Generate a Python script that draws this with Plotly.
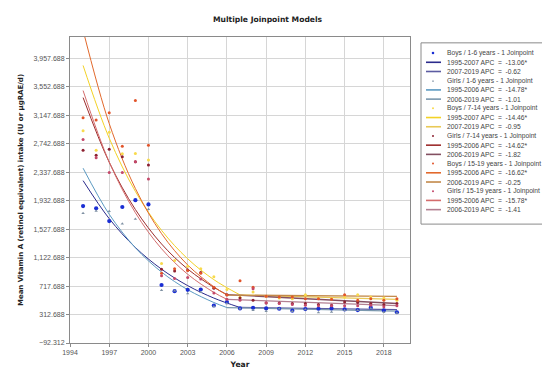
import plotly.graph_objects as go

# ---------------- data ----------------
years = list(range(1995, 2020))

boys_1_6 = [1856, 1824, 1643, 1843, 1940, 1880, 733, 645, 664, 669, 441, 490, 399,
            409, 399, 395, 367, 390, 395, 399, 385, 376, 410, 372, 345]
girls_1_6 = [1755, 1787, 1783, 1606, 1671, 1810, 660, 650, 613, 631, 427, 470, 395,
             375, 360, 395, 360, 385, 340, 350, 375, 375, 400, 345, 335]
boys_7_14 = [2928, 2650, 2905, 2600, 2604, 2511, 1039, 1080, 1000, 966, 850, 669, 560,
             632, 572, 548, 539, 594, 548, 539, 560, 594, 562, 548, 516]
girls_7_14 = [2650, 2580, 2664, 2557, 2487, 2441, 956, 934, 948, 910, 688, 594, 548,
              516, 478, 478, 469, 469, 455, 446, 492, 483, 469, 455, 469]
boys_15_19 = [3114, 3082, 3183, 2706, 3360, 2720, 900, 966, 940, 900, 700, 590, 795,
              700, 572, 562, 562, 539, 539, 530, 594, 516, 539, 516, 539]
girls_15_19 = [2803, 2543, 2334, 2334, 2487, 2242, 864, 826, 840, 817, 618, 530, 516,
               678, 479, 470, 455, 446, 437, 437, 437, 437, 446, 423, 437]

# fitted joinpoint model values
fit_years_b16 = [1995, 1997, 1999, 2001, 2003, 2005, 2007]
fit_b16_seg1 = [2218, 1677, 1267, 958, 724, 547, 413]
fit_years_b16_seg2 = [2007, 2019]
fit_b16_seg2 = [413, 383]

fit_years_g16 = [1995, 1997, 1999, 2001, 2003, 2005, 2006]
fit_g16_seg1 = [2395, 1739, 1263, 917, 666, 484, 412]
fit_years_g16_seg2 = [2006, 2019]
fit_g16_seg2 = [412, 362]

fit_years_b714 = [1995, 1997, 1999, 2001, 2003, 2005, 2007]
fit_b714_seg1 = [3857, 2822, 2065, 1511, 1106, 809, 592]
fit_years_b714_seg2 = [2007, 2019]
fit_b714_seg2 = [592, 528]

fit_years_g714 = [1995, 1997, 1999, 2001, 2003, 2005, 2006]
fit_g714_seg1 = [3400, 2479, 1807, 1317, 960, 700, 597]
fit_years_g714_seg2 = [2006, 2019]
fit_g714_seg2 = [597, 470]

fit_years_b1519 = [1995, 1997, 1999, 2001, 2003, 2005, 2006]
fit_b1519_seg1 = [4358, 3030, 2106, 1464, 1018, 708, 590]
fit_years_b1519_seg2 = [2006, 2019]
fit_b1519_seg2 = [590, 571]

fit_years_g1519 = [1995, 1997, 1999, 2001, 2003, 2005, 2006]
fit_g1519_seg1 = [3500, 2483, 1761, 1249, 886, 628, 529]
fit_years_g1519_seg2 = [2006, 2019]
fit_g1519_seg2 = [529, 440]

y_tick_vals = [-92.312, 312.688, 717.688, 1122.688, 1527.688, 1932.688,
               2337.688, 2742.688, 3147.688, 3552.688, 3957.688]
x_tick_vals = [1994, 1997, 2000, 2003, 2006, 2009, 2012, 2015, 2018]

legend_labels = [
    "Boys / 1-6 years - 1 Joinpoint", "1995-2007 APC  =  -13.06*", "2007-2019 APC  =  -0.62",
    "Girls / 1-6 years - 1 Joinpoint", "1995-2006 APC  =  -14.78*", "2006-2019 APC  =  -1.01",
    "Boys / 7-14 years - 1 Joinpoint", "1995-2007 APC  =  -14.46*", "2007-2019 APC  =  -0.95",
    "Girls / 7-14 years - 1 Joinpoint", "1995-2006 APC  =  -14.62*", "2006-2019 APC  =  -1.82",
    "Boys / 15-19 years - 1 Joinpoint", "1995-2006 APC  =  -16.62*", "2006-2019 APC  =  -0.25",
    "Girls / 15-19 years - 1 Joinpoint", "1995-2006 APC  =  -15.78*", "2006-2019 APC  =  -1.41",
]

# ---------------- styles ----------------
series = [
    dict(pts=boys_1_6, f1=(fit_years_b16, fit_b16_seg1), f2=(fit_years_b16_seg2, fit_b16_seg2),
         mc="#1a2ed4", ms=4.2, sym="circle", c1="#2b2b8c", c2="#5c5ca2"),
    dict(pts=girls_1_6, f1=(fit_years_g16, fit_g16_seg1), f2=(fit_years_g16_seg2, fit_g16_seg2),
         mc="#7f91a3", ms=3, sym="triangle-up", c1="#5b9ac2", c2="#7b98ae"),
    dict(pts=boys_7_14, f1=(fit_years_b714, fit_b714_seg1), f2=(fit_years_b714_seg2, fit_b714_seg2),
         mc="#f8da4c", ms=3, sym="circle", c1="#f3d226", c2="#e9c957"),
    dict(pts=girls_7_14, f1=(fit_years_g714, fit_g714_seg1), f2=(fit_years_g714_seg2, fit_g714_seg2),
         mc="#8c2030", ms=3, sym="circle", c1="#9c2c2c", c2="#834f61"),
    dict(pts=boys_15_19, f1=(fit_years_b1519, fit_b1519_seg1), f2=(fit_years_b1519_seg2, fit_b1519_seg2),
         mc="#e2542a", ms=3, sym="circle", c1="#e2692c", c2="#c3894a"),
    dict(pts=girls_15_19, f1=(fit_years_g1519, fit_g1519_seg1), f2=(fit_years_g1519_seg2, fit_g1519_seg2),
         mc="#c4486a", ms=3, sym="circle", c1="#d46c6c", c2="#b38092"),
]

fig = go.Figure()
for s in series:
    fig.add_trace(go.Scatter(x=s["f1"][0], y=s["f1"][1], mode="lines", line_shape="spline",
                             line=dict(color=s["c1"], width=1), showlegend=False, hoverinfo="skip"))
    fig.add_trace(go.Scatter(x=s["f2"][0], y=s["f2"][1], mode="lines",
                             line=dict(color=s["c2"], width=1.3), showlegend=False, hoverinfo="skip"))
for s in series:
    fig.add_trace(go.Scatter(x=years, y=s["pts"], mode="markers",
                             marker=dict(color=s["mc"], size=s["ms"], symbol=s["sym"], line=dict(width=0)),
                             showlegend=False))

# ---------------- layout ----------------
W, H = 550, 372
L, R, T, B = 62, 402, 29, 343


def px_x(x):
    return (x - L) / (R - L)


def px_y(y):
    return (B - y) / (B - T)


FONT = "Liberation Sans, Arial, sans-serif"
BOLD = "DejaVu Sans, Verdana, sans-serif"

shapes = []
annotations = []

# legend box
shapes.append(dict(type="rect", xref="paper", yref="paper",
                   x0=px_x(413), x1=px_x(548), y0=px_y(35), y1=px_y(221),
                   line=dict(color="#8a8a8a", width=1), fillcolor="white", layer="above"))
row0, step = 45.5, 9.45
for i, lab in enumerate(legend_labels):
    yy = row0 + i * step
    s = series[i // 3]
    k = i % 3
    if k == 0:
        if s["sym"] == "circle":
            r = 1.3 if s["ms"] > 4 else 1.0
            shapes.append(dict(type="circle", xref="paper", yref="paper",
                               x0=px_x(425 - r), x1=px_x(425 + r), y0=px_y(yy - r), y1=px_y(yy + r),
                               fillcolor=s["mc"], line=dict(width=0), layer="above"))
        else:
            shapes.append(dict(type="path", xref="paper", yref="paper",
                               path="M {} {} L {} {} L {} {} Z".format(px_x(424), px_y(yy + 1), px_x(426), px_y(yy + 1), px_x(425), px_y(yy - 1)),
                               fillcolor=s["mc"], line=dict(width=0), layer="above"))
    else:
        col = s["c1"] if k == 1 else s["c2"]
        shapes.append(dict(type="line", xref="paper", yref="paper",
                           x0=px_x(418), x1=px_x(433), y0=px_y(yy), y1=px_y(yy),
                           line=dict(color=col, width=1.6), layer="above"))
    annotations.append(dict(text=lab, xref="paper", yref="paper", x=px_x(437), y=px_y(yy),
                            xanchor="left", yanchor="middle", showarrow=False,
                            font=dict(family=FONT, size=6.7, color="#444")))

# title
annotations.append(dict(text="<b>Multiple Joinpoint Models</b>", xref="paper", yref="paper",
                        x=px_x(260), y=px_y(11), xanchor="center", yanchor="middle", showarrow=False,
                        font=dict(family=BOLD, size=7.6, color="#222")))

fig.update_layout(
    width=W, height=H,
    margin=dict(l=L, r=W - R, t=T, b=H - B, pad=0),
    paper_bgcolor="white", plot_bgcolor="white",
    showlegend=False,
    font=dict(family=FONT, size=7, color="#555"),
    shapes=shapes, annotations=annotations,
    xaxis=dict(range=[1994, 2020], tickvals=x_tick_vals, tickformat="d",
               showgrid=True, gridcolor="#d6d6d6", gridwidth=1,
               showline=True, linecolor="#8a8a8a", linewidth=1, mirror=True,
               ticks="outside", ticklen=3, tickcolor="#8a8a8a",
               tickfont=dict(size=7, color="#555"), zeroline=False,
               title=dict(text="<b>Year</b>", font=dict(family=BOLD, size=7.6, color="#222"), standoff=6)),
    yaxis=dict(range=[-92.312, 4262], tickvals=y_tick_vals, tickformat=",.3f",
               showgrid=True, gridcolor="#d6d6d6", gridwidth=1,
               showline=True, linecolor="#8a8a8a", linewidth=1, mirror=True,
               ticks="outside", ticklen=3, tickcolor="#8a8a8a",
               tickfont=dict(size=7, color="#555"), zeroline=False,
               title=dict(text="<b>Mean Vitamin A (retinol equivalent) intake (IU or μgRAE/d)</b>",
                          font=dict(family=BOLD, size=7, color="#222"), standoff=8)),
)

fig.write_html("out.html")
